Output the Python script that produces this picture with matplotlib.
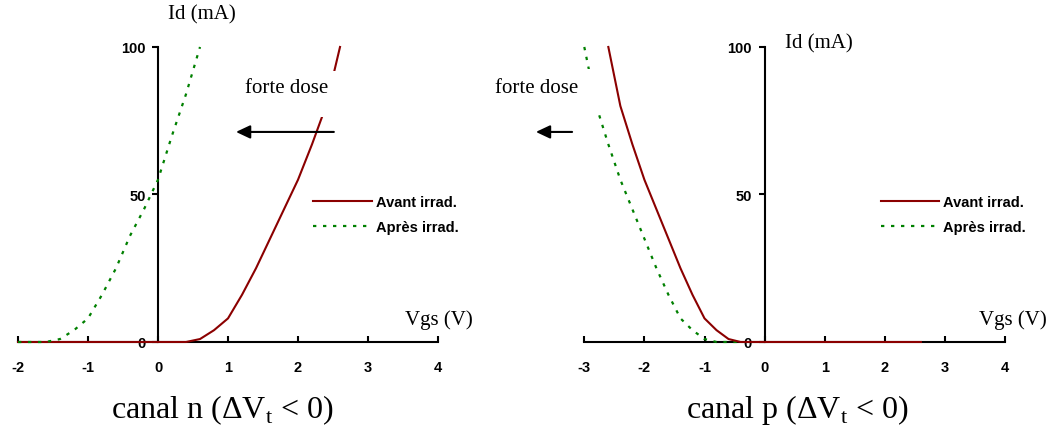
import numpy as np
import matplotlib as mpl
import matplotlib.pyplot as plt
from matplotlib.patches import Rectangle

# canal n
n_vgs_avant = [-2.0, -1.0, 0.0, 0.4, 0.6, 0.8, 1.0, 1.2, 1.4, 1.6, 1.8, 2.0, 2.2, 2.4, 2.6]
n_id_avant = [0, 0, 0, 0, 1, 4, 8, 16, 25, 35, 45, 55, 67, 80, 100]
n_vgs_apres = [-2.0, -1.6, -1.4, -1.2, -1.0, -0.8, -0.6, -0.4, -0.2, 0.0, 0.2, 0.4, 0.6]
n_id_apres = [0, 0, 1, 4, 8, 16, 25, 36, 45, 55, 70, 84, 100]

# canal p
p_vgs_avant = [-2.6, -2.4, -2.2, -2.0, -1.8, -1.6, -1.4, -1.2, -1.0, -0.8, -0.6, -0.4, 0.0, 1.0, 2.0, 2.6]
p_id_avant = [100, 80, 67, 55, 45, 35, 25, 16, 8, 4, 1, 0, 0, 0, 0, 0]
p_vgs_apres = [-3.0, -2.8, -2.6, -2.4, -2.2, -2.0, -1.8, -1.6, -1.4, -1.2, -1.0, -0.8, -0.4]
p_id_apres = [100, 80, 67, 55, 45, 35, 25, 16, 8, 4, 1, 0, 0]

labels = ['Avant irrad.', 'Après irrad.']
titles = ['canal n (ΔV$_\\mathregular{t}$ < 0)', 'canal p (ΔV$_\\mathregular{t}$ < 0)']

red = '#8b0000'
green = '#008000'
serif = 'Liberation Serif'
sans = 'Liberation Sans'

mpl.rcParams['font.family'] = sans
mpl.rcParams['axes.unicode_minus'] = False

fig = plt.figure(figsize=(10.49, 4.31), dpi=100)
ax_n = fig.add_axes([0.01716, 0.2042, 0.4004, 0.6845])
ax_p = fig.add_axes([0.5570, 0.2042, 0.4011, 0.6845])


def setup(ax, xmin):
    ax.set_xlim(xmin, 4)
    ax.set_ylim(0, 100)
    ax.spines['left'].set_position(('data', 0))
    ax.spines['bottom'].set_position(('data', 0))
    ax.spines['top'].set_visible(False)
    ax.spines['right'].set_visible(False)
    for s in ('left', 'bottom'):
        ax.spines[s].set_linewidth(1.5)
        ax.spines[s].set_zorder(1)
    ax.set_xticks(range(xmin, 5))
    ax.set_yticks([0, 50, 100])
    ax.tick_params(axis='x', direction='in', length=4, width=1.5, pad=13,
                   labelsize=10.5)
    ax.tick_params(axis='y', direction='out', length=4, width=1.5, pad=5,
                   labelsize=10.5)
    for tl in ax.get_xticklabels() + ax.get_yticklabels():
        tl.set_fontweight('bold')
    ax.patch.set_visible(False)


setup(ax_n, -2)
setup(ax_p, -3)

ax_n.plot(n_vgs_avant, n_id_avant, color=red, lw=1.5, label=labels[0], zorder=3, clip_on=False)
ax_n.plot(n_vgs_apres, n_id_apres, color=green, lw=1.6, ls=(0, (1.5, 3)), label=labels[1], zorder=4, clip_on=False)
ax_p.plot(p_vgs_avant, p_id_avant, color=red, lw=1.5, label=labels[0], zorder=3, clip_on=False)
ax_p.plot(p_vgs_apres, p_id_apres, color=green, lw=1.6, ls=(0, (1.5, 3)), label=labels[1], zorder=2, clip_on=False)

for ax, lx in ((ax_n, 0.703), (ax_p, 0.704)):
    leg = ax.legend(loc='upper left', bbox_to_anchor=(lx, 0.498), frameon=False,
                    borderpad=0, borderaxespad=0, handlelength=4.0, handletextpad=0.3,
                    labelspacing=0.75, prop={'family': sans, 'weight': 'bold', 'size': 10.5})
    leg.set_zorder(6)

# axis names
ax_n.text(0.438, 1.112, 'Id (mA)', transform=ax_n.transAxes, ha='center', va='center',
          family=serif, fontsize=15)
ax_n.text(1.083, 0.078, 'Vgs (V)', transform=ax_n.transAxes, ha='right', va='center',
          family=serif, fontsize=15)
ax_p.text(0.557, 1.0136, 'Id (mA)', transform=ax_p.transAxes, ha='center', va='center',
          family=serif, fontsize=15)
ax_p.text(1.0998, 0.078, 'Vgs (V)', transform=ax_p.transAxes, ha='right', va='center',
          family=serif, fontsize=15)

# "forte dose" with white box behind
ax_n.add_patch(Rectangle((0.529, 0.763), 0.231, 0.156, transform=ax_n.transAxes,
                         facecolor='white', edgecolor='none', zorder=5, clip_on=False))
ax_n.text(0.639, 0.861, 'forte dose', transform=ax_n.transAxes, ha='center', va='center',
          family=serif, fontsize=15, zorder=6)
ax_p.add_patch(Rectangle((-0.224, 0.783), 0.268, 0.142, transform=ax_p.transAxes,
                         facecolor='white', edgecolor='none', zorder=5, clip_on=False))
ax_p.text(-0.1136, 0.864, 'forte dose', transform=ax_p.transAxes, ha='center', va='center',
          family=serif, fontsize=15, zorder=6)

# arrows
arrow = dict(arrowstyle='-|>,head_length=0.85,head_width=0.4', color='black', lw=1.5,
             shrinkA=0, shrinkB=0)
ax_n.annotate('', xy=(0.519, 0.712), xytext=(0.752, 0.712), xycoords='axes fraction',
              arrowprops=arrow, zorder=7)
ax_p.annotate('', xy=(-0.115, 0.712), xytext=(-0.029, 0.712), xycoords='axes fraction',
              arrowprops=arrow, zorder=7)

# titles
ax_n.text(0.487, -0.227, titles[0], transform=ax_n.transAxes, ha='center', va='center',
          family=serif, fontsize=23)
ax_p.text(0.507, -0.227, titles[1], transform=ax_p.transAxes, ha='center', va='center',
          family=serif, fontsize=23)

fig.savefig('out.png', dpi=100)
